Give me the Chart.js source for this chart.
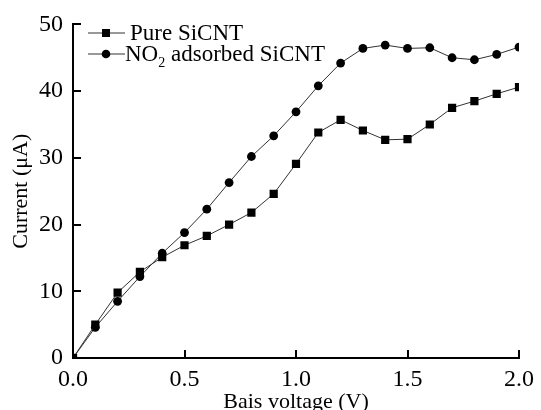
<!DOCTYPE html>
<html>
<head>
<meta charset="utf-8">
<script src="https://cdn.jsdelivr.net/npm/chart.js@4/dist/chart.umd.min.js"></script>
<style>
  html, body { margin: 0; padding: 0; background: #ffffff; }
  #wrap { width: 541px; height: 410px; position: relative; }
</style>
</head>
<body>
<div id="wrap"><canvas id="c" width="541" height="410"></canvas></div>
<script>
const voltages = [0.0, 0.1, 0.2, 0.3, 0.4, 0.5, 0.6, 0.7, 0.8, 0.9, 1.0, 1.1, 1.2, 1.3, 1.4, 1.5, 1.6, 1.7, 1.8, 1.9, 2.0];
const pureSiCNT = [0, 5.0, 9.8, 12.9, 15.1, 16.9, 18.3, 20.0, 21.8, 24.6, 29.1, 33.8, 35.7, 34.1, 32.7, 32.8, 35.0, 37.5, 38.5, 39.6, 40.6];
const no2SiCNT = [0, 4.6, 8.5, 12.2, 15.7, 18.8, 22.3, 26.3, 30.2, 33.3, 36.9, 40.8, 44.2, 46.4, 46.9, 46.4, 46.5, 45.0, 44.7, 45.5, 46.6];
const seriesNames = ['Pure SiCNT', 'NO\u2082 adsorbed SiCNT'];
const xTickValues = [0, 0.5, 1.0, 1.5, 2.0];
const yTickValues = [0, 10, 20, 30, 40, 50];
const xTitle = 'Bais voltage (V)';
const yTitle = 'Current (\u03bcA)';

const FONT = "'Liberation Serif', 'Times New Roman', serif";

const toPts = (ys) => voltages.map((v, i) => ({ x: v, y: ys[i] }));

const inwardTicks = {
  id: 'inwardTicks',
  afterDraw(chart) {
    const ctx = chart.ctx;
    const xs = chart.scales.x, ys = chart.scales.y;
    const len = 8;
    ctx.save();
    ctx.strokeStyle = '#000';
    ctx.lineWidth = 2;
    ctx.beginPath();
    xTickValues.forEach(v => {
      const px = Math.round(xs.getPixelForValue(v));
      ctx.moveTo(px, ys.bottom);
      ctx.lineTo(px, ys.bottom - len);
    });
    yTickValues.forEach(v => {
      const py = Math.round(ys.getPixelForValue(v));
      ctx.moveTo(xs.left, py);
      ctx.lineTo(xs.left + len, py);
    });
    ctx.stroke();
    ctx.restore();
  }
};

const customLegend = {
  id: 'customLegend',
  afterDraw(chart) {
    const ctx = chart.ctx;
    ctx.save();
    ctx.fillStyle = '#000';
    ctx.strokeStyle = '#333';
    ctx.lineWidth = 1;
    const y1 = 33, y2 = 54;
    ctx.beginPath(); ctx.moveTo(88, y1); ctx.lineTo(125, y1); ctx.stroke();
    ctx.fillRect(106 - 4, y1 - 4, 8, 8);
    ctx.font = '23px ' + FONT;
    ctx.textBaseline = 'middle';
    ctx.textAlign = 'left';
    ctx.fillText(seriesNames[0], 130, y1 + 1);
    ctx.beginPath(); ctx.moveTo(88, y2); ctx.lineTo(125, y2); ctx.stroke();
    ctx.beginPath(); ctx.arc(106, y2, 4.3, 0, Math.PI * 2); ctx.fill();
    const parts = seriesNames[1].split('\u2082');
    let x = 125;
    ctx.font = '23px ' + FONT;
    ctx.fillText(parts[0], x, y2 + 1);
    x += ctx.measureText(parts[0]).width;
    ctx.font = '14px ' + FONT;
    ctx.fillText('2', x, y2 + 9);
    x += ctx.measureText('2').width;
    ctx.font = '23px ' + FONT;
    ctx.fillText(parts[1], x, y2 + 1);
    ctx.restore();
  }
};

new Chart(document.getElementById('c'), {
  type: 'line',
  data: {
    datasets: [
      {
        label: seriesNames[0],
        data: toPts(pureSiCNT),
        borderColor: '#333',
        borderWidth: 1,
        backgroundColor: '#000',
        pointBackgroundColor: '#000',
        pointBorderColor: '#000',
        pointBorderWidth: 0,
        pointStyle: 'rect',
        pointRadius: 5.8,
        tension: 0
      },
      {
        label: seriesNames[1],
        data: toPts(no2SiCNT),
        borderColor: '#333',
        borderWidth: 1,
        backgroundColor: '#000',
        pointBackgroundColor: '#000',
        pointBorderColor: '#000',
        pointBorderWidth: 0,
        pointStyle: 'circle',
        pointRadius: 4.4,
        tension: 0
      }
    ]
  },
  options: {
    responsive: false,
    animation: false,
    devicePixelRatio: 1,
    layout: { padding: { left: 0, right: 15, top: 21, bottom: 0 } },
    plugins: {
      legend: { display: false },
      tooltip: { enabled: false }
    },
    scales: {
      x: {
        type: 'linear',
        min: 0, max: 2,
        afterFit(scale) { scale.height = 52; },
        afterBuildTicks(scale) { scale.ticks = xTickValues.map(v => ({ value: v })); },
        grid: { display: true, drawOnChartArea: false, drawTicks: false },
        border: { display: true, color: '#000', width: 2 },
        ticks: {
          color: '#000',
          padding: 7,
          font: { family: FONT, size: 24 },
          maxRotation: 0,
          callback: (v) => Number(v).toFixed(1)
        },
        title: {
          display: true,
          text: xTitle,
          color: '#000',
          font: { family: FONT, size: 22 },
          padding: { top: 0, bottom: -5 }
        }
      },
      y: {
        type: 'linear',
        min: 0, max: 50,
        afterFit(scale) { scale.width = 73; },
        afterBuildTicks(scale) { scale.ticks = yTickValues.map(v => ({ value: v })); },
        grid: { display: true, drawOnChartArea: false, drawTicks: false },
        border: { display: true, color: '#000', width: 2 },
        ticks: {
          color: '#000',
          padding: 10,
          font: { family: FONT, size: 24 },
          callback: (v) => String(v)
        },
        title: {
          display: true,
          text: yTitle,
          color: '#000',
          font: { family: FONT, size: 22 },
          padding: { top: 8, bottom: 0 }
        }
      }
    }
  },
  plugins: [inwardTicks, customLegend]
});
</script>
</body>
</html>
